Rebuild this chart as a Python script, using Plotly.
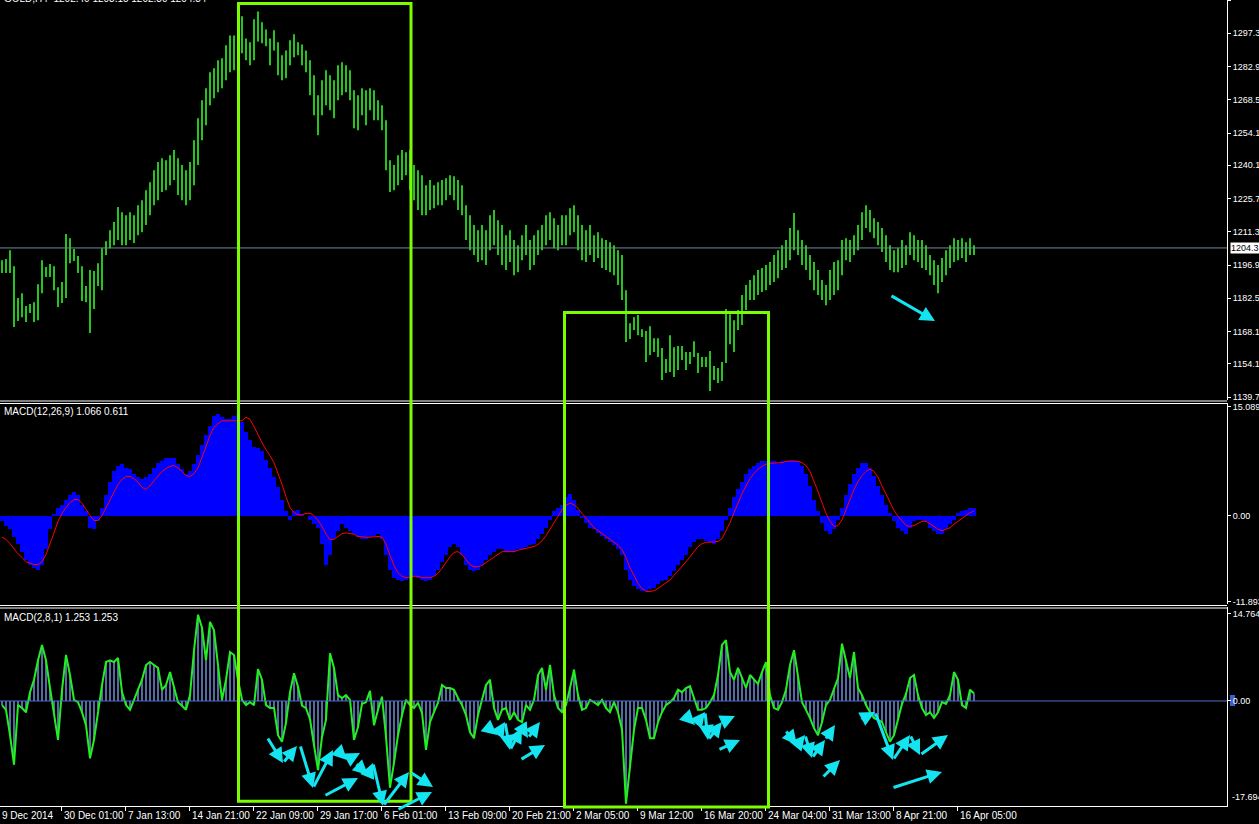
import plotly.graph_objects as go

# ---------------- data, one sample per two H4 bars ----------------
price_high = [
    1199.0,1199.5,1203.3,1196.4,1182.6,1184.7,1179.1,1180.0,1180.8,1188.6,
    1199.0,1196.0,1197.3,1196.4,1187.3,1189.5,1210.3,1208.5,1203.8,1200.8,
    1196.4,1187.8,1194.7,1194.3,1197.7,1204.2,1207.2,1212.0,1215.5,1222.0,
    1219.8,1218.5,1219.8,1218.5,1222.8,1225.0,1229.3,1232.8,1238.0,1241.5,
    1243.2,1242.3,1244.5,1246.7,1243.2,1240.2,1238.0,1241.5,1251.0,1260.5,
    1268.3,1273.5,1280.4,1282.2,1285.6,1286.5,1292.1,1296.4,1296.4,1300.8,
    1304.7,1295.1,1293.4,1303.4,1306.8,1302.1,1299.0,1295.1,1298.6,1293.4,
    1287.8,1289.9,1294.3,1296.9,1293.4,1292.5,1289.9,1285.6,1279.1,1270.5,
    1277.0,1281.3,1279.1,1277.0,1283.5,1284.8,1283.5,1281.3,1272.6,1270.5,
    1273.5,1272.6,1273.5,1272.6,1268.3,1266.1,1259.6,1242.3,1240.2,1244.5,
    1246.7,1245.8,1246.7,1240.2,1238.0,1235.8,1231.5,1233.7,1231.5,1232.8,
    1233.7,1234.5,1235.8,1235.4,1233.7,1231.5,1222.8,1218.5,1214.2,1212.0,
    1214.2,1212.0,1218.5,1220.7,1216.3,1214.2,1209.8,1212.0,1207.7,1205.5,
    1209.8,1214.2,1207.7,1209.8,1212.0,1214.2,1218.5,1219.8,1217.2,1214.2,
    1218.5,1218.5,1221.5,1222.8,1218.5,1214.2,1212.0,1214.2,1209.8,1211.1,
    1208.5,1207.7,1206.8,1205.5,1203.3,1201.2,1186.0,1171.7,1174.3,1175.2,
    1169.1,1168.3,1170.4,1165.2,1165.2,1160.9,1156.2,1166.5,1161.3,1161.8,
    1161.8,1159.2,1159.2,1163.9,1158.8,1157.0,1157.0,1159.6,1153.1,1152.3,
    1154.9,1177.8,1175.6,1173.0,1177.4,1183.9,1188.2,1190.4,1192.5,1194.7,
    1195.6,1196.9,1198.2,1201.2,1203.3,1205.5,1207.7,1212.9,1219.4,1212.0,
    1207.7,1205.5,1201.2,1198.2,1194.7,1190.4,1188.2,1194.7,1198.2,1199.0,
    1207.7,1208.5,1207.7,1209.8,1214.2,1219.8,1222.8,1220.7,1217.2,1215.5,
    1212.9,1209.8,1205.5,1203.3,1204.2,1207.7,1205.5,1211.1,1209.8,1207.7,
    1207.7,1205.5,1201.2,1199.0,1196.9,1199.9,1203.3,1205.5,1208.5,1207.7,
    1208.5,1206.8,1208.5,1205.5]
price_low = [
    1193.4,1193.4,1193.4,1170.0,1172.6,1174.3,1172.2,1176.1,1172.2,1173.0,
    1184.7,1191.7,1191.7,1186.0,1178.7,1180.4,1182.6,1197.7,1198.6,1193.4,
    1181.3,1180.8,1167.4,1177.8,1187.8,1186.0,1201.2,1204.2,1205.5,1207.7,
    1205.5,1205.5,1207.7,1206.4,1209.8,1211.1,1214.2,1218.5,1222.8,1225.0,
    1228.5,1229.3,1231.5,1233.7,1227.2,1225.0,1222.8,1225.0,1231.5,1240.2,
    1251.0,1257.5,1266.1,1269.2,1271.8,1273.5,1277.0,1280.4,1281.3,1285.6,
    1288.7,1285.6,1283.5,1285.6,1293.8,1293.0,1291.7,1283.5,1289.9,1279.1,
    1277.0,1277.8,1283.5,1286.9,1287.8,1283.5,1280.4,1270.5,1261.8,1253.1,
    1261.8,1266.1,1264.0,1260.5,1268.3,1270.5,1271.8,1268.3,1256.2,1255.3,
    1261.8,1257.5,1264.0,1259.6,1259.6,1255.3,1238.0,1228.5,1229.3,1231.5,
    1233.7,1235.8,1229.3,1225.0,1220.7,1218.5,1218.5,1220.7,1221.5,1222.8,
    1222.8,1225.0,1227.2,1225.0,1220.7,1218.5,1207.7,1203.3,1201.2,1198.2,
    1199.0,1196.9,1203.3,1205.5,1201.2,1196.9,1194.7,1198.2,1192.5,1193.8,
    1199.0,1201.2,1194.7,1196.9,1201.2,1203.3,1205.5,1207.7,1204.2,1203.3,
    1205.5,1205.5,1209.8,1211.1,1203.3,1199.0,1198.2,1201.2,1198.2,1199.9,
    1195.6,1194.7,1193.8,1192.5,1188.2,1181.7,1163.5,1164.8,1168.7,1166.5,
    1165.7,1154.9,1157.9,1159.2,1157.0,1147.1,1150.1,1150.5,1148.4,1151.4,
    1155.7,1151.4,1154.0,1157.0,1150.1,1152.7,1152.7,1142.3,1147.1,1145.8,
    1146.6,1154.4,1162.6,1159.2,1168.7,1170.9,1177.4,1181.7,1181.7,1183.9,
    1185.2,1186.0,1188.2,1189.5,1191.2,1194.7,1195.6,1199.0,1203.3,1201.2,
    1196.9,1194.7,1190.4,1186.0,1183.9,1181.7,1179.5,1181.7,1183.9,1186.0,
    1192.5,1199.0,1198.2,1201.2,1203.3,1207.7,1212.9,1211.1,1208.5,1205.5,
    1202.5,1198.2,1194.7,1193.8,1193.8,1195.6,1196.9,1201.2,1199.0,1198.2,
    1195.6,1194.7,1192.5,1188.2,1184.7,1189.5,1192.5,1195.6,1198.2,1199.0,
    1199.9,1198.2,1201.2,1201.2]

macd_hist = [
    -0.8,-1.4,-1.9,-3.0,-4.0,-5.1,-6.1,-6.8,-7.2,-7.5,
    -6.9,-4.7,-1.9,0.1,1.1,1.5,2.2,2.9,3.3,2.8,
    1.5,0.6,-1.7,-1.9,-0.8,1.1,2.9,4.7,6.1,6.9,
    7.1,6.6,6.4,5.8,5.3,5.0,5.3,5.8,6.6,7.3,
    7.6,7.9,8.0,7.9,7.1,6.4,5.8,6.1,7.1,8.4,
    9.7,11.1,12.4,13.7,14.0,13.6,13.3,13.3,13.8,14.0,
    12.9,11.6,10.5,9.5,9.4,8.9,7.7,6.6,5.3,3.9,
    2.2,0.6,-0.6,0.6,0.7,0.1,0.0,-0.6,-1.2,-1.7,
    -4.0,-6.9,-5.4,-3.3,-2.2,-1.2,-1.7,-2.2,-2.6,-3.0,
    -3.3,-3.3,-3.0,-2.8,-2.6,-3.3,-5.4,-7.5,-8.6,-8.9,
    -9.1,-8.9,-8.6,-8.3,-8.6,-8.9,-9.1,-8.9,-8.3,-7.5,
    -6.4,-5.4,-4.4,-4.0,-4.4,-5.5,-6.8,-7.5,-7.7,-7.5,
    -6.9,-6.1,-5.5,-5.0,-4.7,-4.7,-5.0,-5.1,-5.0,-4.7,
    -4.6,-4.4,-4.1,-3.9,-3.3,-2.6,-1.7,-0.6,0.6,1.1,
    1.5,2.5,3.0,2.2,0.8,-0.3,-1.1,-1.7,-1.9,-2.4,
    -2.8,-3.3,-3.7,-4.1,-4.7,-5.5,-7.5,-8.9,-9.7,-10.2,
    -10.5,-10.5,-10.2,-10.0,-9.5,-9.1,-8.9,-8.3,-7.7,-6.9,
    -6.1,-5.4,-4.4,-3.7,-3.3,-3.3,-3.5,-3.7,-4.0,-3.3,
    -2.2,-0.6,1.1,2.5,3.6,4.7,5.7,6.4,6.9,7.3,
    7.5,7.6,7.5,7.5,7.3,7.5,7.6,7.7,7.7,7.5,
    6.9,5.8,4.1,2.2,0.6,-1.1,-2.2,-2.5,-1.9,-0.6,
    1.1,2.9,4.3,5.7,6.6,7.2,7.3,6.6,5.5,4.1,
    2.8,1.4,0.3,-0.8,-1.7,-2.2,-2.5,-1.7,-0.8,-0.6,
    -0.6,-0.8,-1.7,-2.2,-2.6,-2.5,-1.9,-1.2,-0.6,0.3,
    0.6,0.8,1.0,1.066]
macd_signal = [
    -3.0,-3.3,-3.9,-4.6,-5.3,-5.8,-6.4,-6.6,-6.8,-6.8,
    -6.4,-5.4,-4.0,-2.4,-0.8,0.3,1.1,1.8,2.2,2.2,
    1.7,0.8,0.0,-0.7,-0.7,0.0,1.1,2.2,3.3,4.3,
    5.0,5.4,5.4,5.1,4.6,3.9,3.6,4.1,4.8,5.5,
    6.1,6.5,6.8,6.9,6.6,6.1,5.5,5.4,5.8,6.6,
    8.0,9.5,11.1,12.2,12.7,13.1,13.1,13.1,13.1,13.1,
    13.1,13.6,13.3,12.3,11.1,10.1,9.1,8.3,7.3,5.9,
    4.3,2.6,1.1,0.4,0.1,0.1,0.3,0.3,0.0,-0.7,
    -1.5,-2.6,-3.3,-3.3,-2.9,-2.5,-2.4,-2.5,-2.6,-2.9,
    -3.0,-3.0,-3.0,-2.9,-2.9,-3.0,-4.0,-5.5,-6.9,-7.9,
    -8.4,-8.6,-8.6,-8.4,-8.4,-8.6,-8.6,-8.6,-8.4,-8.0,
    -7.3,-6.5,-5.7,-5.1,-5.0,-5.4,-6.1,-6.8,-7.1,-7.1,
    -6.9,-6.5,-6.1,-5.7,-5.3,-5.0,-5.0,-5.0,-5.0,-4.8,
    -4.7,-4.6,-4.4,-4.3,-4.0,-3.5,-2.8,-1.9,-1.0,0.0,
    0.8,1.4,1.7,1.5,1.0,0.3,-0.4,-1.1,-1.7,-2.1,
    -2.5,-2.9,-3.3,-3.7,-4.1,-4.7,-5.8,-7.2,-8.4,-9.4,
    -10.1,-10.5,-10.5,-10.4,-10.1,-9.7,-9.3,-8.9,-8.3,-7.7,
    -7.1,-6.4,-5.7,-5.0,-4.3,-3.9,-3.7,-3.7,-3.7,-3.6,
    -3.2,-2.2,-1.0,0.4,1.8,3.0,4.1,5.1,5.8,6.4,
    6.8,7.1,7.2,7.3,7.3,7.3,7.5,7.5,7.5,7.5,
    7.3,6.9,6.1,4.8,3.3,1.8,0.3,-0.8,-1.5,-1.4,
    -0.6,0.8,2.2,3.6,4.7,5.5,6.1,6.4,6.1,5.3,
    4.1,2.9,1.7,0.7,-0.1,-0.8,-1.4,-1.5,-1.4,-1.1,
    -0.8,-0.8,-1.1,-1.5,-1.9,-2.1,-1.9,-1.7,-1.2,-0.8,
    -0.4,0.0,0.4,0.611]
macd2_main = [
    -0.7,-1.5,-5.8,-10.8,-0.7,-1.2,-1.9,1.5,3.6,6.9,
    9.5,6.9,2.2,-1.9,-6.6,1.9,7.8,4.4,0.2,-0.2,
    -1.9,-4.1,-9.7,-6.6,-1.5,2.7,6.6,6.9,6.6,7.3,
    1.5,-0.7,-1.5,0.2,1.9,3.6,6.1,6.6,6.1,5.6,
    1.9,2.7,4.9,2.2,-0.2,-0.8,-1.5,1.0,8.6,14.6,
    12.4,6.9,13.4,12.0,5.6,0.2,3.6,8.3,7.8,3.6,
    0.2,-0.7,-0.2,-0.7,5.4,3.6,-0.7,-1.2,-1.2,-5.8,
    -6.9,-3.7,1.5,4.7,2.4,-0.8,-1.2,-3.1,-7.5,-11.7,
    -6.1,-3.2,8.1,5.6,1.0,0.5,1.0,0.2,-6.6,-4.4,
    -0.5,-0.2,1.7,-4.1,-1.5,0.7,-6.1,-14.7,-10.5,-5.8,
    -2.4,0.2,-0.7,-1.2,-0.3,-2.0,-8.3,-3.6,-1.9,-0.3,
    2.7,2.2,2.2,1.9,0.5,-0.7,-2.4,-5.3,-6.3,-2.4,
    0.2,2.7,3.6,-1.2,-3.2,-1.5,-1.2,-3.2,-1.9,-3.2,
    -3.6,-0.7,-1.5,0.2,4.4,5.6,1.9,6.1,1.0,-1.2,
    -1.9,-0.7,2.2,5.3,1.0,-1.5,-1.2,0.2,-0.2,-0.7,
    0.2,-1.2,-1.9,-0.2,-1.9,-4.9,-17.4,-11.5,-4.9,-1.2,
    -1.2,-3.2,-6.3,-6.3,-3.6,-1.9,-0.7,-0.2,0.5,1.9,
    1.5,2.2,2.5,0.5,-1.5,-1.5,-1.2,-0.2,1.0,4.4,
    9.5,10.3,4.9,3.6,5.6,3.9,2.2,4.4,3.6,2.9,
    4.9,6.6,1.0,-1.2,-1.5,-0.2,1.9,6.1,8.6,3.9,
    -0.2,-1.5,-2.9,-4.6,-5.8,-3.6,-0.7,0.2,1.9,3.9,
    9.7,6.9,3.9,8.3,2.2,1.0,-0.7,-1.9,-2.9,-3.2,
    -3.6,-5.3,-6.9,-5.8,-2.9,-0.5,1.2,3.9,4.4,1.0,
    -1.2,-2.4,-1.9,-2.9,-1.9,-0.2,-0.5,1.0,4.9,3.6,
    -0.7,-1.2,1.9,1.253]

price_ticks = [1311.7, 1297.3, 1282.9, 1268.5, 1254.1, 1240.1, 1225.7, 1211.3, 1196.9, 1182.5, 1168.1, 1154.1, 1139.7]
macd_ticks = [15.089, 0.0, -11.893]
macd_tick_text = ["15.089", "0.00", "-11.893"]
macd2_ticks = [14.764, 0.0]
macd2_tick_text = ["14.764", "0.00"]
macd2_min_text = "-17.694"
time_labels = ["30 Dec 01:00", "7 Jan 13:00", "14 Jan 21:00", "22 Jan 09:00", "29 Jan 17:00", "6 Feb 01:00",
               "13 Feb 09:00", "20 Feb 21:00", "2 Mar 05:00", "9 Mar 12:00", "16 Mar 20:00", "24 Mar 04:00",
               "31 Mar 13:00", "8 Apr 21:00", "16 Apr 05:00"]
first_label = "9 Dec 2014"
current_price = 1204.3
title_main = "GOLD,H4  1202.40 1203.15 1202.30 1204.34"
title_macd = "MACD(12,26,9) 1.066 0.611"
title_macd2 = "MACD(2,8,1) 1.253 1.253"

# ---------------- geometry ----------------
W, H = 1259, 824
PR = 1227          # right edge of plot area (px)
PB = 806           # bottom of plot area (px)
STEP = 2           # H4 bars per sample
n = len(price_high)
xs = [0.5 + STEP * k for k in range(n)]
tick_bars = [30 + 32 * i for i in range(len(time_labels))]
XR = [-0.5, (PR - 1) / 2.0]


def px(x):
    return x / PR


def py(y):
    return (PB - y) / PB


FONT = "Liberation Sans"
FS = 10
FSY = 9
WHITE = "#ffffff"

fig = go.Figure()

# price bars (high-low)
bx, by = [], []
for x, h, l in zip(xs, price_high, price_low):
    bx += [x, x, None]
    by += [l, h, None]
fig.add_trace(go.Scatter(x=bx, y=by, mode="lines", line=dict(color="#26c41e", width=2),
                         xaxis="x", yaxis="y", hoverinfo="skip", showlegend=False))

# MACD(12,26,9)
fig.add_trace(go.Bar(x=xs, y=macd_hist, width=STEP, marker=dict(color="#0000ff", line=dict(width=0)),
                     xaxis="x", yaxis="y2", showlegend=False))
fig.add_trace(go.Scatter(x=xs, y=macd_signal, mode="lines", line=dict(color="#ff0000", width=1),
                         xaxis="x", yaxis="y2", showlegend=False))

# MACD(2,8,1)
hx, hy = [], []
for x, v in zip(xs, macd2_main):
    hx += [x, x, None]
    hy += [0, v, None]
fig.add_trace(go.Scatter(x=hx, y=hy, mode="lines", line=dict(color="#6f8fd6", width=1.5),
                         xaxis="x", yaxis="y3", showlegend=False))
fig.add_trace(go.Scatter(x=xs, y=macd2_main, mode="lines", line=dict(color="#22ee22", width=2),
                         xaxis="x", yaxis="y3", showlegend=False))

axis_common = dict(showgrid=False, zeroline=False, side="right", anchor="x", ticks="outside", ticklen=3,
                   tickcolor=WHITE, showline=True, linecolor=WHITE, linewidth=1, automargin=False,
                   tickfont=dict(family=FONT, size=FSY, color=WHITE))

fig.update_layout(
    template="none",
    width=W, height=H, paper_bgcolor="#000000", plot_bgcolor="#000000",
    margin=dict(l=0, r=W - PR, t=0, b=H - PB, pad=0, autoexpand=False), bargap=0, showlegend=False,
    xaxis=dict(range=XR, showgrid=False, zeroline=False, anchor="y3", tickvals=tick_bars, ticks="outside",
               ticklen=4, tickcolor=WHITE, showticklabels=False, showline=True, linecolor=WHITE, linewidth=1,
               automargin=False),
    yaxis=dict(domain=[py(400), 1], range=[1138.4, 1311.75], tickvals=price_ticks,
               ticktext=["%.1f" % v for v in price_ticks], **axis_common),
    yaxis2=dict(domain=[py(604), py(403)], range=[-12.24, 15.56], tickvals=macd_ticks,
                ticktext=macd_tick_text, **axis_common),
    yaxis3=dict(domain=[0, py(607)], range=[-17.8, 15.93], tickvals=macd2_ticks,
                ticktext=macd2_tick_text, **axis_common),
)

shapes = []
# panel separators
for y in (401, 403.5, 605.5, 608):
    shapes.append(dict(type="line", xref="paper", yref="paper", x0=0, x1=1, y0=py(y), y1=py(y),
                       line=dict(color=WHITE, width=1)))
# current price line
shapes.append(dict(type="line", xref="paper", yref="y", x0=0, x1=1, y0=current_price, y1=current_price,
                   line=dict(color="#778899", width=1)))
# zero line of MACD(2,8,1)
shapes.append(dict(type="line", xref="paper", yref="y3", x0=0, x1=1, y0=0, y1=0,
                   line=dict(color="#4a6fd0", width=1)))
shapes.append(dict(type="rect", xref="paper", yref="paper", x0=px(1230), x1=px(1235), y0=py(706), y1=py(695),
                   line=dict(width=0), fillcolor="#3a5fd0", layer="below"))
# highlight rectangles
for (x0, y0, x1, y1) in [(238.5, 3.5, 411, 801.3), (564.5, 312.5, 768.5, 807)]:
    shapes.append(dict(type="rect", xref="paper", yref="paper", x0=px(x0), x1=px(x1), y0=py(y1), y1=py(y0),
                       line=dict(color="#7cfc00", width=3)))
fig.update_layout(shapes=shapes)

ann = []
# x labels
ann.append(dict(text=first_label, x=0, y=py(815), xref="paper", yref="paper", xanchor="left",
                yanchor="middle", showarrow=False, font=dict(family=FONT, size=FS, color=WHITE)))
for b, t in zip(tick_bars, time_labels):
    ann.append(dict(text=t, x=b, y=py(815), xref="x", yref="paper", xanchor="left", xshift=1,
                    yanchor="middle", showarrow=False, font=dict(family=FONT, size=FS, color=WHITE)))
# current price tag
ann.append(dict(text=str(current_price), x=px(1230), y=current_price, xref="paper", yref="y", xanchor="left",
                yanchor="middle", showarrow=False, bgcolor=WHITE, borderpad=0,
                font=dict(family=FONT, size=FSY, color="#000000")))
ann.append(dict(text=macd2_min_text, x=px(1230), y=py(797), xref="paper", yref="paper", xanchor="left",
                yanchor="middle", showarrow=False, font=dict(family=FONT, size=FSY, color=WHITE)))
# titles
ann.append(dict(text=title_main, x=px(2), y=py(-2), xref="paper", yref="paper", xanchor="left",
                yanchor="middle", showarrow=False, font=dict(family=FONT, size=FS, color=WHITE)))
ann.append(dict(text=title_macd, x=px(2), y=py(412), xref="paper", yref="paper", xanchor="left",
                yanchor="middle", showarrow=False, font=dict(family=FONT, size=FS, color=WHITE)))
ann.append(dict(text=title_macd2, x=px(2), y=py(617), xref="paper", yref="paper", xanchor="left",
                yanchor="middle", showarrow=False, font=dict(family=FONT, size=FS, color=WHITE)))

# cyan arrows (tail -> head), pixel positions of the drawing
arrows = [
    ((890, 295), (935, 321)),
    ((267, 737), (283, 763)), ((283, 763), (297, 746)), ((300, 745), (313, 788)), ((313, 788), (333, 750)),
    ((335, 748), (347, 760)), ((347, 760), (360, 753)), ((324, 796), (358, 778)), ((355, 763), (368, 775)),
    ((368, 775), (373, 763)), ((373, 763), (383, 806)), ((383, 806), (409, 772)), ((410, 772), (433, 787)),
    ((397, 810), (432, 792)),
    ((485, 725), (497, 735)), ((497, 735), (505, 722)), ((505, 722), (510, 750)), ((510, 750), (522, 728)),
    ((522, 728), (528, 738)), ((528, 738), (540, 722)), ((520, 760), (545, 745)),
    ((683, 713), (695, 725)), ((695, 725), (705, 712)), ((705, 712), (708, 740)), ((708, 740), (722, 722)),
    ((722, 722), (735, 716)), ((718, 750), (740, 740)),
    ((785, 730), (797, 745)), ((797, 745), (805, 735)), ((805, 735), (812, 758)), ((812, 758), (825, 740)),
    ((825, 740), (835, 725)), ((822, 778), (840, 760)),
    ((860, 720), (875, 712)), ((875, 712), (893, 760)), ((893, 760), (910, 735)), ((910, 735), (920, 755)),
    ((920, 755), (948, 735)), ((892, 788), (942, 772)),
]
for (tx, ty), (hx_, hy_) in arrows:
    ann.append(dict(text="", x=px(hx_), y=py(hy_), xref="paper", yref="paper", ax=tx - hx_, ay=ty - hy_,
                    showarrow=True, arrowhead=2, arrowsize=1, arrowwidth=3, arrowcolor="#14e4f0"))
fig.update_layout(annotations=ann)

fig.write_html("out.html", config={"displayModeBar": False},
               post_script="document.body.style.margin='0';document.body.style.overflow='hidden';")
